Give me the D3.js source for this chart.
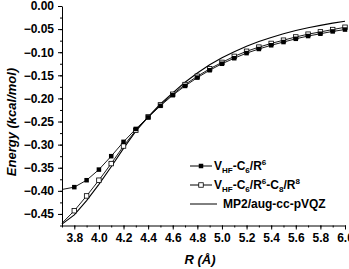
<!DOCTYPE html>
<html>
<head>
<meta charset="utf-8">
<script src="https://cdn.jsdelivr.net/npm/d3@7"></script>
<style>
  body { margin: 0; background: #fff; }
  svg { display: block; font-family: "Liberation Sans", Arial, sans-serif; }
  .axis text { font-size: 12px; font-weight: bold; fill: #000; }
  .axis path, .axis line { stroke: #000; stroke-width: 1; }
</style>
</head>
<body>
<svg width="349" height="269"></svg>
<script>
  // distance R (angstrom), one sample every 0.1
  var rValues = [3.7, 3.8, 3.9, 4.0, 4.1, 4.2, 4.3, 4.4, 4.5, 4.6, 4.7, 4.8,
                 4.9, 5.0, 5.1, 5.2, 5.3, 5.4, 5.5, 5.6, 5.7, 5.8, 5.9, 6.0];

  // V_HF - C6/R^6
  var c6Values = [-0.397, -0.392, -0.377, -0.354, -0.325, -0.294, -0.266, -0.241,
                  -0.216, -0.193, -0.173, -0.155, -0.139, -0.125, -0.113, -0.102,
                  -0.093, -0.085, -0.078, -0.071, -0.065, -0.060, -0.055, -0.051];

  // V_HF - C6/R^6 - C8/R^8
  var c8Values = [-0.470, -0.443, -0.411, -0.377, -0.341, -0.303, -0.269, -0.240,
                  -0.214, -0.191, -0.170, -0.152, -0.136, -0.122, -0.109, -0.098,
                  -0.089, -0.081, -0.074, -0.067, -0.061, -0.056, -0.051, -0.046];

  // MP2/aug-cc-pVQZ
  var mp2Values = [-0.472, -0.452, -0.421, -0.386, -0.348, -0.308, -0.271, -0.240,
                   -0.212, -0.188, -0.165, -0.145, -0.127, -0.112, -0.099, -0.087,
                   -0.077, -0.068, -0.060, -0.053, -0.047, -0.042, -0.037, -0.033];

  var xTicks = [3.8, 4.0, 4.2, 4.4, 4.6, 4.8, 5.0, 5.2, 5.4, 5.6, 5.8, 6.0];
  var yTicks = [0, -0.05, -0.10, -0.15, -0.20, -0.25, -0.30, -0.35, -0.40, -0.45];

  var svg = d3.select("svg");

  var x = d3.scaleLinear().domain([3.7, 6.0]).range([62, 345]);
  var y = d3.scaleLinear().domain([-0.475, 0]).range([225.5, 6]);

  // minor ticks first
  svg.append("g")
      .attr("class", "axis")
      .attr("transform", "translate(0," + y.range()[0] + ")")
      .call(d3.axisBottom(x)
        .tickValues(d3.range(3.7, 6.05, 0.1))
        .tickSize(2)
        .tickFormat(""))
    .select(".domain").remove();

  svg.append("g")
      .attr("class", "axis")
      .attr("transform", "translate(" + x.range()[0] + ",0)")
      .call(d3.axisLeft(y)
        .tickValues(d3.range(-0.475, 0.01, 0.025))
        .tickSize(2)
        .tickFormat(""))
    .select(".domain").remove();

  svg.append("g")
      .attr("class", "axis")
      .attr("transform", "translate(0," + y.range()[0] + ")")
      .call(d3.axisBottom(x)
        .tickValues(xTicks)
        .tickSize(4)
        .tickSizeOuter(0)
        .tickPadding(4)
        .tickFormat(d3.format(".1f")));

  svg.append("g")
      .attr("class", "axis")
      .attr("transform", "translate(" + x.range()[0] + ",0)")
      .call(d3.axisLeft(y)
        .tickValues(yTicks)
        .tickSize(4)
        .tickSizeOuter(0)
        .tickPadding(4)
        .tickFormat(d3.format(".2f")));

  // axis titles
  svg.append("text")
      .attr("x", 200)
      .attr("y", 264)
      .attr("text-anchor", "middle")
      .attr("font-size", 13)
      .attr("font-weight", "bold")
      .attr("font-style", "italic")
      .text("R (Å)");

  svg.append("text")
      .attr("transform", "translate(16,122) rotate(-90)")
      .attr("text-anchor", "middle")
      .attr("font-size", 13)
      .attr("font-style", "italic")
      .attr("font-weight", "bold")
      .text("Energy (kcal/mol)");

  var line = d3.line()
      .x(function(d) { return x(d[0]); })
      .y(function(d) { return y(d[1]); });

  function pairs(vals) {
    return rValues.map(function(r, i) { return [r, vals[i]]; });
  }

  var plot = svg.append("g");

  plot.append("path")
      .datum(pairs(mp2Values))
      .attr("fill", "none")
      .attr("stroke", "#000")
      .attr("stroke-width", 1.1)
      .attr("d", line);

  plot.append("path")
      .datum(pairs(c8Values))
      .attr("fill", "none")
      .attr("stroke", "#000")
      .attr("stroke-width", 0.9)
      .attr("d", line);

  plot.append("path")
      .datum(pairs(c6Values))
      .attr("fill", "none")
      .attr("stroke", "#000")
      .attr("stroke-width", 0.9)
      .attr("d", line);

  var ms = 4.5;

  plot.selectAll("rect.open")
    .data(pairs(c8Values).filter(function(d) { return d[0] > 3.75; }))
    .enter().append("rect")
      .attr("class", "open")
      .attr("x", function(d) { return x(d[0]) - ms / 2; })
      .attr("y", function(d) { return y(d[1]) - ms / 2; })
      .attr("width", ms)
      .attr("height", ms)
      .attr("fill", "#fff")
      .attr("stroke", "#000")
      .attr("stroke-width", 0.8);

  plot.selectAll("rect.filled")
    .data(pairs(c6Values).filter(function(d) { return d[0] > 3.75; }))
    .enter().append("rect")
      .attr("class", "filled")
      .attr("x", function(d) { return x(d[0]) - ms / 2; })
      .attr("y", function(d) { return y(d[1]) - ms / 2; })
      .attr("width", ms)
      .attr("height", ms)
      .attr("fill", "#000");

  // legend
  var legend = svg.append("g").attr("font-size", 12).attr("font-weight", "bold");

  function label(t, rowY, parts) {
    var txt = legend.append("text").attr("x", t).attr("y", rowY + 4);
    parts.forEach(function(p) {
      var s = txt.append("tspan").text(p[0]);
      if (p[1] == "sub") s.attr("font-size", 8).attr("dy", 3);
      if (p[1] == "sup") s.attr("font-size", 8).attr("dy", -5);
      if (p[1] == "back") s.attr("dy", p[2]);
    });
  }

  var rows = [166, 185, 204];

  legend.append("line").attr("x1", 190).attr("x2", 212)
      .attr("y1", rows[0]).attr("y2", rows[0]).attr("stroke", "#000");
  legend.append("rect").attr("x", 201 - ms / 2).attr("y", rows[0] - ms / 2)
      .attr("width", ms).attr("height", ms).attr("fill", "#000");
  label(214, rows[0], [["V"], ["HF", "sub"], ["-C", "back", -3], ["6", "sub"],
                       ["/R", "back", -3], ["6", "sup"]]);

  legend.append("line").attr("x1", 190).attr("x2", 212)
      .attr("y1", rows[1]).attr("y2", rows[1]).attr("stroke", "#000");
  legend.append("rect").attr("x", 201 - ms / 2).attr("y", rows[1] - ms / 2)
      .attr("width", ms).attr("height", ms).attr("fill", "#fff")
      .attr("stroke", "#000").attr("stroke-width", 0.8);
  label(214, rows[1], [["V"], ["HF", "sub"], ["-C", "back", -3], ["6", "sub"],
                       ["/R", "back", -3], ["6", "sup"], ["-C", "back", 5], ["8", "sub"],
                       ["/R", "back", -3], ["8", "sup"]]);

  legend.append("line").attr("x1", 190).attr("x2", 217)
      .attr("y1", rows[2]).attr("y2", rows[2]).attr("stroke", "#000");
  label(223, rows[2], [["MP2/aug-cc-pVQZ"]]);
</script>
</body>
</html>
